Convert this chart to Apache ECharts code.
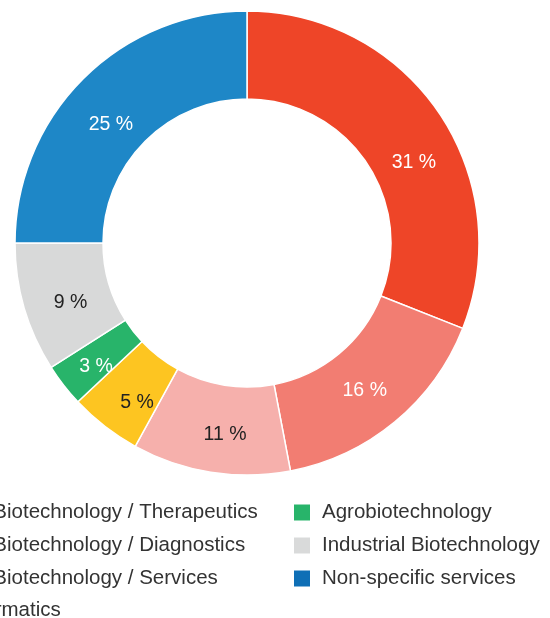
<!DOCTYPE html>
<html>
<head>
<meta charset="utf-8">
<script src="https://cdn.jsdelivr.net/npm/echarts@6/dist/echarts.min.js"></script>
<style>
html,body{margin:0;padding:0;background:#fff;}
#c{width:550px;height:618px;}
</style>
</head>
<body>
<div id="c"></div>
<script>
const categories = [
  "Red Biotechnology / Therapeutics",
  "Red Biotechnology / Diagnostics",
  "Red Biotechnology / Services",
  "Bioinformatics",
  "Agrobiotechnology",
  "Industrial Biotechnology",
  "Non-specific services"
];
const values = [31, 16, 11, 5, 3, 9, 25];

// styling (not data)
const colors = ["#EE4528", "#F27D72", "#F6B0AC", "#FDC521", "#28B46A", "#D8D9D9", "#1E87C7"];
const labelColors = ["#fff", "#fff", "#222", "#222", "#fff", "#222", "#fff"];
const legendColors = ["#EE4528", "#F27D72", "#F6B0AC", "#FDC521", "#28B46A", "#D9DADA", "#0F6FB6"];
const labelNudge = [[9, 27], [-4, 0], [8, 3], [7, 9], [0, 7], [7, 6], [-1, 17]];

const font = "'Liberation Sans', Arial, Helvetica, sans-serif";
const chart = echarts.init(document.getElementById('c'), null, {renderer: 'canvas'});

const data = categories.map((n, i) => ({
  name: n,
  value: values[i],
  itemStyle: {color: colors[i]},
  label: {color: labelColors[i], offset: labelNudge[i]}
}));

function legend(names, left, top) {
  return {
    orient: 'vertical',
    left: left,
    top: top,
    padding: 0,
    itemWidth: 18,
    itemHeight: 18,
    itemGap: 12,
    icon: 'rect',
    selectedMode: false,
    textStyle: {fontFamily: font, fontSize: 20.5, color: '#333', padding: [0, 0, 0, 6]},
    data: names.map(n => ({name: n, itemStyle: {color: legendColors[categories.indexOf(n)]}}))
  };
}

chart.setOption({
  animation: false,
  legend: [
    legend(categories.slice(0, 3), -80, 502),
    legend(categories.slice(3, 4), -98, 600),
    legend(categories.slice(4, 7), 292, 502)
  ],
  series: [{
    type: 'pie',
    center: [247, 243],
    radius: [144, 232],
    startAngle: 90,
    clockwise: true,
    avoidLabelOverlap: false,
    itemStyle: {borderColor: '#fff', borderWidth: 1.5},
    label: {
      show: true,
      position: 'inside',
      formatter: '{c} %',
      fontFamily: font,
      fontSize: 19.5
    },
    labelLine: {show: false},
    emphasis: {disabled: true},
    data: data
  }]
});
</script>
</body>
</html>
